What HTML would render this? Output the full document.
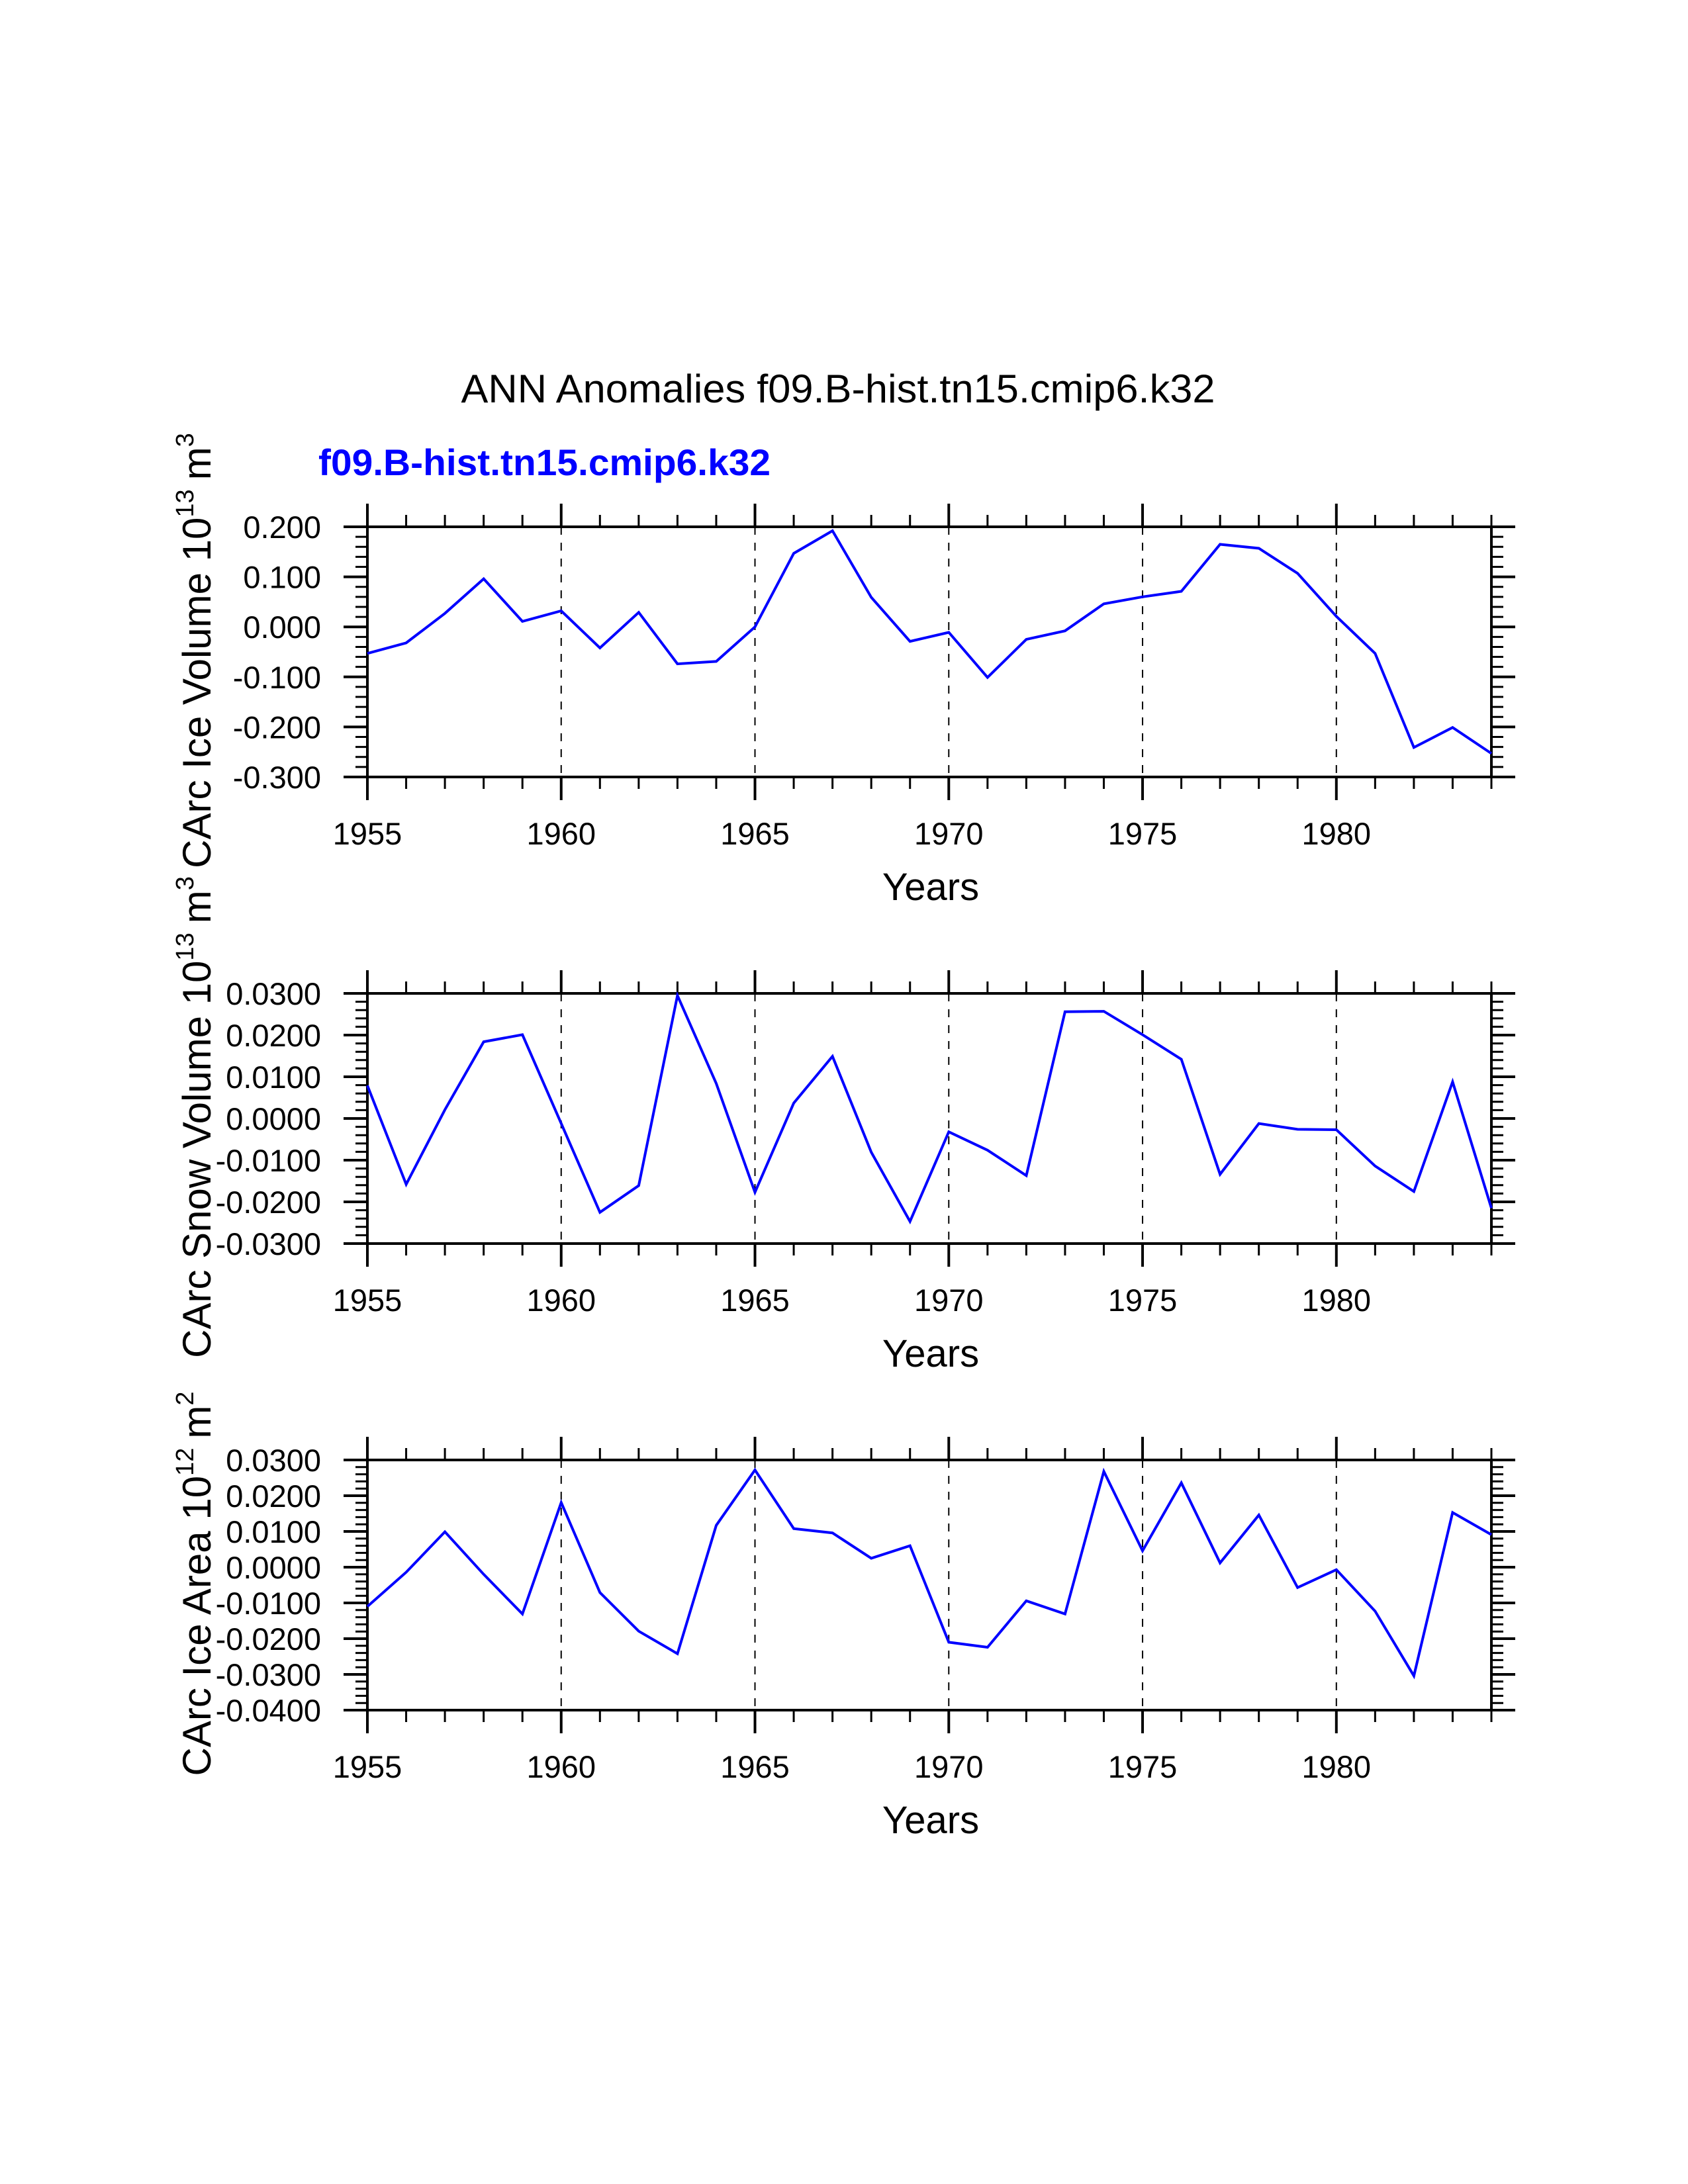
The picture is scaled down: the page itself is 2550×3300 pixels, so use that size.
<!DOCTYPE html>
<html><head><meta charset="utf-8"><style>
html,body{margin:0;padding:0;background:#fff;}
svg{display:block;}
text{font-family:"Liberation Sans",sans-serif;}
</style></head><body>
<svg id="chart" width="2550" height="3300" viewBox="0 0 2550 3300" xmlns="http://www.w3.org/2000/svg">
<text x="1266" y="608" font-size="60" text-anchor="middle" textLength="1139" lengthAdjust="spacingAndGlyphs">ANN Anomalies f09.B-hist.tn15.cmip6.k32</text>
<text x="481" y="718" font-size="56" font-weight="bold" fill="#0000ff" textLength="683" lengthAdjust="spacingAndGlyphs">f09.B-hist.tn15.cmip6.k32</text>
</svg>
<script>
const years = [1955,1956,1957,1958,1959,1960,1961,1962,1963,1964,1965,1966,1967,1968,1969,1970,1971,1972,1973,1974,1975,1976,1977,1978,1979,1980,1981,1982,1983,1984];
const iceVolume = [-0.053,-0.032,0.027,0.096,0.011,0.032,-0.042,0.029,-0.074,-0.069,0.000,0.147,0.192,0.059,-0.029,-0.011,-0.101,-0.025,-0.008,0.046,0.060,0.071,0.165,0.157,0.107,0.021,-0.053,-0.241,-0.201,-0.253];
const snowVolume = [0.0079,-0.0158,0.0021,0.0184,0.0201,-0.0012,-0.0225,-0.0161,0.0295,0.0084,-0.0177,0.0037,0.0149,-0.0081,-0.0247,-0.0032,-0.0076,-0.0137,0.0256,0.0257,0.0201,0.0142,-0.0134,-0.0012,-0.0026,-0.0027,-0.0114,-0.0175,0.0088,-0.0215];
const iceArea = [-0.0110,-0.0014,0.0099,-0.0020,-0.0131,0.0181,-0.0071,-0.0179,-0.0242,0.0117,0.0272,0.0108,0.0096,0.0025,0.0060,-0.0210,-0.0224,-0.0094,-0.0131,0.0268,0.0046,0.0236,0.0012,0.0146,-0.0057,-0.0007,-0.0123,-0.0304,0.0153,0.0091];
const xTickLabels = ["1955","1960","1965","1970","1975","1980"];
const iceVolumeTicks = ["0.200","0.100","0.000","-0.100","-0.200","-0.300"];
const snowVolumeTicks = ["0.0300","0.0200","0.0100","0.0000","-0.0100","-0.0200","-0.0300"];
const iceAreaTicks = ["0.0300","0.0200","0.0100","0.0000","-0.0100","-0.0200","-0.0300","-0.0400"];

const NS = "http://www.w3.org/2000/svg";
const svg = document.getElementById('chart');
const X0 = 555, X1 = 2253, H = 378;
function mk(tag, attrs, parent){ const e = document.createElementNS(NS, tag); for (const k in attrs) e.setAttribute(k, attrs[k]); (parent||svg).appendChild(e); return e; }
function xs(yr){ return X0 + (yr - 1955) / (1984 - 1955) * (X1 - X0); }

function panel(name, top, ymin, ymax, ticks, values, titleMain, titleExp, titleUnit, supNum){
  const g = mk('g', {});
  
  
  const bot = top + H;
  const ys = v => bot - (v - ymin) / (ymax - ymin) * H;
  for (const lab of xTickLabels){
    const yr = +lab;
    if (yr === 1955) continue;
    const l = mk('line', {x1: xs(yr), x2: xs(yr), y1: top, y2: bot, stroke: '#000', 'stroke-width': 2, 'stroke-dasharray': '12 12'}, g);
    
    
  }
  for (let yr = 1955; yr <= 1984; yr++){
    const major = (yr % 5 === 0);
    const len = major ? 35 : 18;
    mk('line', {x1: xs(yr), x2: xs(yr), y1: top - len, y2: top, stroke: '#000', 'stroke-width': major ? 4 : 3}, g);
    mk('line', {x1: xs(yr), x2: xs(yr), y1: bot, y2: bot + len, stroke: '#000', 'stroke-width': major ? 4 : 3}, g);
  }
  for (const lab of xTickLabels){
    const t = mk('text', {x: xs(+lab), y: bot + 102, 'font-size': 47, 'text-anchor': 'middle'}, g);
    
    
    t.textContent = lab;
  }
  const n = ticks.length - 1;
  const step = (ymax - ymin) / n;
  for (let i = 0; i <= n; i++){
    const v = ymax - i * step;
    const y = ys(v);
    mk('line', {x1: X0 - 36, x2: X0, y1: y, y2: y, stroke: '#000', 'stroke-width': 4}, g);
    mk('line', {x1: X1, x2: X1 + 36, y1: y, y2: y, stroke: '#000', 'stroke-width': 4}, g);
    const t = mk('text', {x: 485, y: y + 17, 'font-size': 47, 'text-anchor': 'end'}, g);
    
    
    t.textContent = ticks[i];
    if (i < n){
      for (let k = 1; k < 5; k++){
        const ym = ys(v - k * step / 5);
        mk('line', {x1: X0 - 18, x2: X0, y1: ym, y2: ym, stroke: '#000', 'stroke-width': 3}, g);
        mk('line', {x1: X1, x2: X1 + 18, y1: ym, y2: ym, stroke: '#000', 'stroke-width': 3}, g);
      }
    }
  }
  const f = mk('rect', {x: X0, y: top, width: X1 - X0, height: H, fill: 'none', stroke: '#000', 'stroke-width': 4}, g);
  
  
  const pts = values.map((v, i) => xs(years[i]).toFixed(1) + ',' + ys(v).toFixed(1)).join(' ');
  const pl = mk('polyline', {points: pts, fill: 'none', stroke: '#0000ff', 'stroke-width': 4, 'stroke-linejoin': 'miter'}, g);
  
  
  const xt = mk('text', {x: 1406, y: bot + 186, 'font-size': 58, 'text-anchor': 'middle'}, g);
  
  
  xt.textContent = 'Years';
  const cy = top + H / 2 - 2;
  const yt = mk('text', {x: 0, y: 0, 'font-size': 60, 'text-anchor': 'middle', transform: 'translate(318,' + cy + ') rotate(-90)'}, g);
  
  
  const s1 = mk('tspan', {}, yt); s1.textContent = titleMain + ' 10';
  const s2 = mk('tspan', {dy: -26, 'font-size': 38}, yt); s2.textContent = supNum;
  const s3 = mk('tspan', {dy: 26, dx: 14}, yt); s3.textContent = 'm';
  const s4 = mk('tspan', {dy: -26, 'font-size': 38}, yt); s4.textContent = titleExp;
}
panel('ice-volume', 796, -0.3, 0.2, iceVolumeTicks, iceVolume, 'CArc Ice Volume', '3', 'm', '13');
panel('snow-volume', 1501, -0.03, 0.03, snowVolumeTicks, snowVolume, 'CArc Snow Volume', '3', 'm', '13');
panel('ice-area', 2206, -0.04, 0.03, iceAreaTicks, iceArea, 'CArc Ice Area', '2', 'm', '12');
</script>
</body></html>
